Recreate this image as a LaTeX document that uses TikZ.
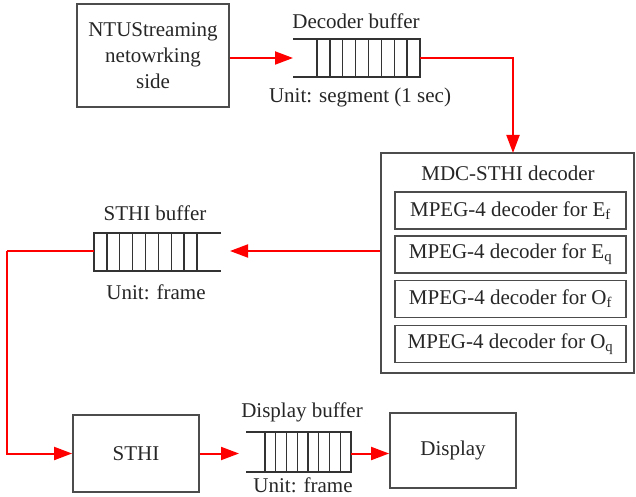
\documentclass[tikz,border=0pt]{standalone}
\usepackage{fontspec}
\setmainfont{Liberation Serif}
\usetikzlibrary{arrows.meta}
\begin{document}
\begin{tikzpicture}[x=1pt,y=-1pt,
  font=\fontsize{21}{26}\selectfont,
  every node/.style={text=black!85},
  blk/.style={draw=black!70, line width=1.8pt, inner sep=0pt, align=center},
  buf/.style={draw=black!80, line width=1.4pt},
  lbl/.style={inner sep=0pt},
  flow/.style={draw=red, line width=2pt, -{Triangle[length=18pt,width=13pt]}},
  wire/.style={draw=red, line width=2pt}]
\useasboundingbox (0,0) rectangle (636,497);
% NTU box
\node[blk, minimum width=152pt, minimum height=103pt] (ntu) at (153,55.5)
  {NTUStreaming\\netowrking\\side};
% Decoder buffer
\draw[buf] (293,39) -- (420,39) -- (420,77) -- (293,77);
\foreach \i in {0,...,7} \draw[buf] ({317+\i*12.875},39) -- ({317+\i*12.875},77);
\coordinate (decin) at (293,58);
\coordinate (decout) at (420,58);
\node[lbl] (declbl) at (356,21) {Decoder buffer};
\node[lbl] (decunit) at (360,97) {Unit: segment (1 sec)};
% MDC-STHI decoder
\node[blk, minimum width=253pt, minimum height=220pt] (mdc) at (507.5,263) {};
\coordinate (mdctop) at (513,153);
\node[lbl] (mdclbl) at (508,173) {MDC-STHI decoder};
\node[blk, minimum width=231pt, minimum height=37pt] (d1) at (510.5,210.5) {MPEG-4 decoder for E\textsubscript{f}};
\node[blk, minimum width=231pt, minimum height=37pt] (d2) at (510.5,254.5) {MPEG-4 decoder for E\textsubscript{q}};
\node[blk, minimum width=231pt, minimum height=37pt] (d3) at (510.5,299) {MPEG-4 decoder for O\textsubscript{f}};
\node[blk, minimum width=231pt, minimum height=37pt] (d4) at (510.5,344) {MPEG-4 decoder for O\textsubscript{q}};
% STHI buffer
\draw[buf] (221,233) -- (94,233) -- (94,271) -- (221,271);
\foreach \i in {1,...,8} \draw[buf] ({94+\i*12.875},233) -- ({94+\i*12.875},271);
\coordinate (sthiin) at (230,251);
\coordinate (sthiout) at (94,251);
\coordinate (corner) at (7,251);
\node[lbl] (sthilbl) at (155,213) {STHI buffer};
\node[lbl] (sthiunit) at (156,292) {Unit: frame};
% STHI box
\node[blk, minimum width=126pt, minimum height=77pt] (sthi) at (136,453.5) {STHI};
% Display buffer
\draw[buf] (246,432) -- (351,432) -- (351,472) -- (246,472);
\foreach \i in {0,...,7} \draw[buf] ({265+\i*10.75},432) -- ({265+\i*10.75},472);
\coordinate (dispin) at (239,453.5);
\coordinate (dispout) at (351,453.5);
\node[lbl] (displbl) at (302,412) {Display buffer};
\node[lbl] (dispunit) at (303,485) {Unit: frame};
% Display box
\node[blk, minimum width=126pt, minimum height=75pt] (disp) at (453,450.5) {Display};
% connectors
\draw[flow] (ntu.east |- decin) -- (decin);
\draw[flow] (decout) -| (mdctop);
\draw[flow] (mdc.west |- sthiin) -- (sthiin);
\draw[wire] (sthiout) -- (corner);
\draw[flow] (corner) |- (sthi.west);
\draw[flow] (sthi.east) -- (dispin);
\draw[flow] (dispout) -- (disp.west |- dispout);
\end{tikzpicture}
\end{document}
